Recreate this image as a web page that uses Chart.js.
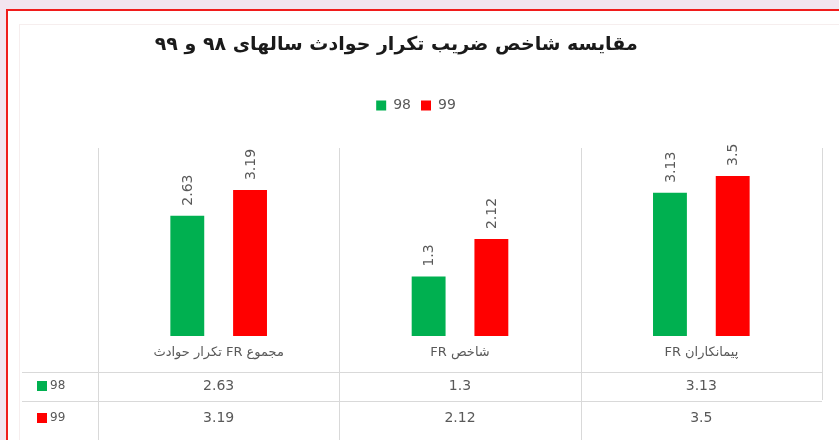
<!DOCTYPE html>
<html><head><meta charset="utf-8">
<script src="https://cdn.jsdelivr.net/npm/chart.js@4.4.0/dist/chart.umd.min.js"></script>
<style>
html,body{margin:0;padding:0;background:#f2e4ef;width:839px;height:440px;overflow:hidden}
#frame{position:absolute;left:6px;top:9px;width:900px;height:500px;border:2px solid #f01c1c;background:#fff}
#inner{position:absolute;left:19px;top:24px;width:900px;height:500px;border:1px solid #f6eeee}
#c{position:absolute;left:0;top:0}
</style></head><body>
<div id="frame"></div><div id="inner"></div>
<canvas id="c" width="839" height="440"></canvas>
<script>
const categories = ['مجموع FR تکرار حوادث', 'شاخص FR', 'پیمانکاران FR'];
const seriesNames = ['98', '99'];
const values98 = [2.63, 1.3, 3.13];
const values99 = [3.19, 2.12, 3.5];
const titleText = 'مقایسه شاخص ضریب تکرار حوادث سالهای ۹۸ و ۹۹';
const seriesColors = ['#00b050', '#ff0000'];

const FONT = '"DejaVu Sans", sans-serif';
const GRAY = '#595959';
const LINE = '#d9d9d9';

const tablePlugin = {
  id: 'tablePlugin',
  afterDraw(chart) {
    const ctx = chart.ctx;
    const xs = chart.scales.x;
    const area = chart.chartArea;
    const n = categories.length;
    const colW = (area.right - area.left) / n;
    ctx.save();
    ctx.strokeStyle = LINE;
    ctx.lineWidth = 1;
    for (let i = 0; i <= n; i++) {
      const x = Math.round(area.left + i * colW) + 0.5;
      ctx.beginPath(); ctx.moveTo(x, 148); ctx.lineTo(x, i === n ? 400 : 440); ctx.stroke();
    }
    [372, 401].forEach(y => {
      ctx.beginPath(); ctx.moveTo(22, y + 0.5); ctx.lineTo(area.right, y + 0.5); ctx.stroke();
    });
    ctx.direction = 'rtl';
    ctx.textAlign = 'center';
    ctx.textBaseline = 'middle';
    ctx.fillStyle = GRAY;
    ctx.font = '13px ' + FONT;
    categories.forEach((c, i) => ctx.fillText(c, xs.getPixelForValue(i), 353));
    ctx.direction = 'ltr';
    const rows = [values98, values99];
    const rowY = [386, 418];
    rows.forEach((vals, r) => {
      ctx.textAlign = 'center';
      ctx.font = '14px ' + FONT;
      ctx.fillStyle = GRAY;
      vals.forEach((v, i) => ctx.fillText(String(v), xs.getPixelForValue(i), rowY[r]));
      ctx.fillStyle = seriesColors[r];
      ctx.fillRect(37, rowY[r] - 5, 10, 10);
      ctx.fillStyle = GRAY;
      ctx.textAlign = 'left';
      ctx.font = '12px ' + FONT;
      ctx.fillText(seriesNames[r], 50, rowY[r]);
    });
    ctx.font = '14px ' + FONT;
    ctx.fillStyle = GRAY;
    ctx.textAlign = 'left';
    chart.data.datasets.forEach((ds, d) => {
      chart.getDatasetMeta(d).data.forEach((el, i) => {
        ctx.save();
        ctx.translate(el.x + 1, el.y - 10);
        ctx.rotate(-Math.PI / 2);
        ctx.fillText(String(ds.data[i]), 0, 0);
        ctx.restore();
      });
    });
    ctx.restore();
  }
};

new Chart(document.getElementById('c'), {
  type: 'bar',
  data: {
    labels: categories,
    datasets: [
      { label: seriesNames[0], data: values98, backgroundColor: seriesColors[0] },
      { label: seriesNames[1], data: values99, backgroundColor: seriesColors[1] }
    ]
  },
  options: {
    responsive: false,
    animation: false,
    devicePixelRatio: 1,
    layout: { padding: { left: 10, right: 17, top: 0, bottom: 104 } },
    datasets: { bar: { categoryPercentage: 0.52, barPercentage: 0.54 } },
    scales: {
      x: { display: false },
      y: {
        display: true, min: 0, max: 4.67,
        grid: { display: false }, border: { display: false },
        ticks: { display: false },
        afterFit(scale) { scale.width = 88; }
      }
    },
    plugins: {
      tooltip: { enabled: false },
      title: {
        display: true, text: titleText + '\u00A0\u00A0\u00A0\u00A0\u00A0\u00A0', color: '#1a1a1a',
        font: { family: FONT, size: 19, weight: 'bold' },
        padding: { top: 34, bottom: 31.6 }
      },
      legend: {
        display: true,
        labels: { color: GRAY, boxWidth: 10, boxHeight: 10, padding: 10, font: { family: FONT, size: 14 } }
      }
    }
  },
  plugins: [tablePlugin]
});
</script>
</body></html>
